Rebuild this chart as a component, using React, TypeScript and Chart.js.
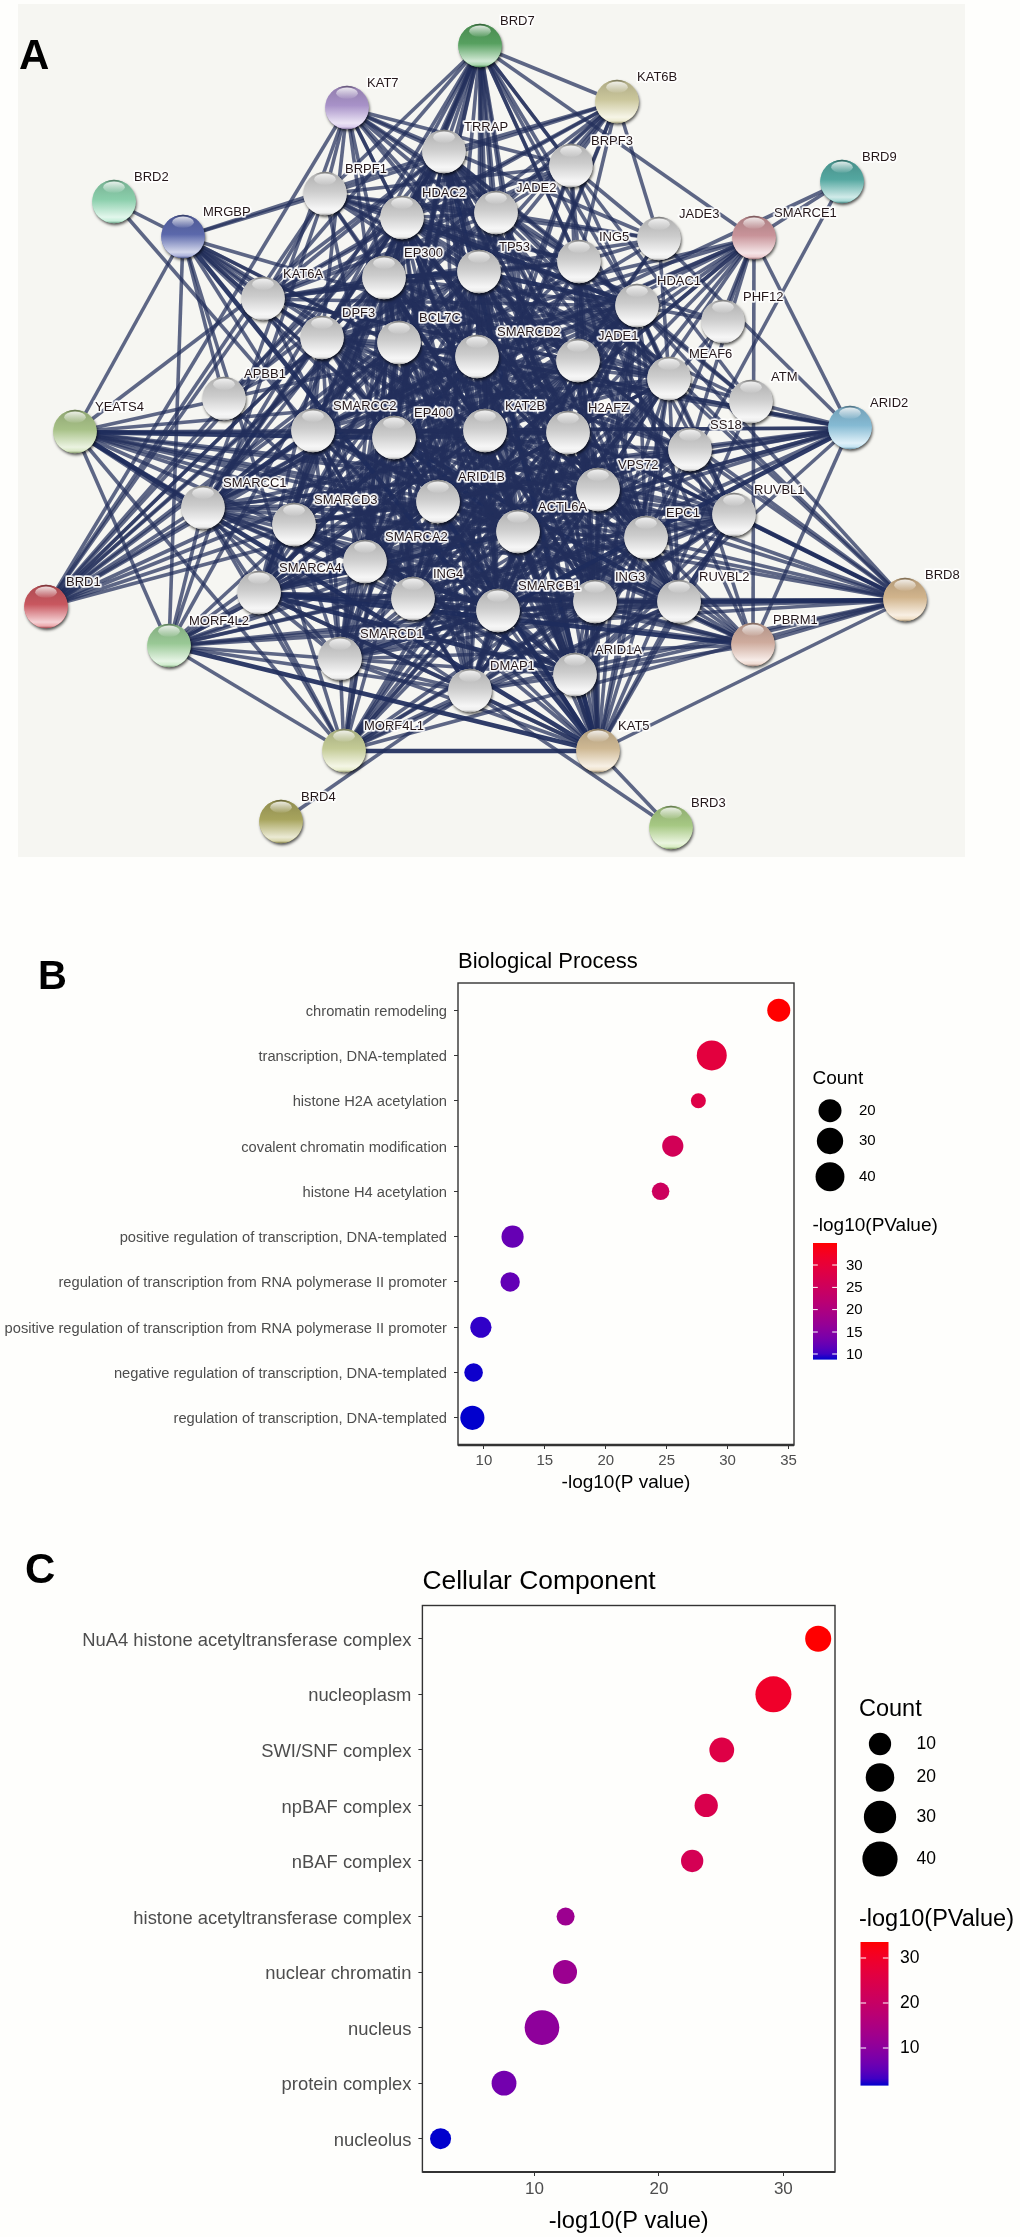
import React, { useEffect, useRef } from "react";
import { Chart, registerables } from "chart.js";

Chart.register(...registerables);

const FONT = "'Liberation Sans', Arial, sans-serif";

/* ---------- Panel A : interaction network ---------- */
const NODE_NAMES = ["BRD7","KAT7","TRRAP","BRPF1","BRD2","MRGBP","HDAC2","JADE2","EP300","TP53","KAT6A","DPF3","BCL7C","SMARCD2","APBB1","YEATS4","SMARCC2","EP400","KAT2B","KAT6B","BRPF3","BRD9","SMARCE1","JADE3","ING5","HDAC1","PHF12","JADE1","MEAF6","ATM","ARID2","H2AFZ","SS18","SMARCC1","SMARCD3","ARID1B","SMARCA2","SMARCA4","BRD1","ING4","MORF4L2","SMARCD1","DMAP1","MORF4L1","BRD4","SMARCB1","VPS72","ACTL6A","RUVBL1","EPC1","BRD8","RUVBL2","ING3","PBRM1","ARID1A","KAT5","BRD3"];
const NODE_X = [480,347,444,325,114,183,402,496,384,479,263,322,399,477,224,75,313,394,485,617,571,842,754,659,579,637,723,578,669,751,850,568,690,203,294,438,365,259,46,413,169,340,470,344,281,498,598,518,734,646,905,679,595,753,575,598,671];
const NODE_Y = [46,108,152,194,202,237,218,213,278,272,299,338,343,357,399,432,431,438,431,102,166,182,238,239,262,306,322,361,379,402,428,433,450,508,525,502,562,593,607,599,646,659,691,751,822,611,490,532,515,538,600,602,602,645,675,751,828];
const NODE_COLORS: Record<string, string> = { BRD7:"#5fb068", KAT7:"#b9a0dc", BRD2:"#98e2bc", MRGBP:"#6472bc", YEATS4:"#b8d494", BRD1:"#dc6068", MORF4L2:"#a8dca4", MORF4L1:"#d6dea4", BRD4:"#b8b466", KAT5:"#e2caa2", BRD3:"#b6dc90", PBRM1:"#e2bcac", BRD8:"#e6c69a", ARID2:"#92cce8", BRD9:"#5cb8b0", SMARCE1:"#dca2a8", KAT6B:"#dedaaa" };

const EDGE_LISTS = [
  "BRD2 MRGBP SMARCC2",
  "BRD4 DMAP1",
  "BRD3 KAT5 DMAP1",
  "BRD9 SMARCE1 SMARCC2 ARID1A",
  "SMARCE1 BRD7 SMARCA2 SMARCA4 SMARCB1 SMARCC1 SMARCC2 SMARCD1 SMARCD2 SMARCD3 ARID1A ARID1B ARID2 PBRM1 ACTL6A DPF3 BCL7C SS18",
  "ARID2 SMARCA2 SMARCA4 SMARCB1 SMARCC1 SMARCC2 SMARCD1 SMARCD2 SMARCD3 ARID1A ARID1B ACTL6A DPF3 BCL7C SS18 PBRM1 JADE3 ATM",
  "PBRM1 SMARCA2 SMARCA4 SMARCB1 SMARCC1 SMARCC2 SMARCD1 SMARCD2 SMARCD3 ARID1A ARID1B ACTL6A DPF3 BCL7C SS18 BRD8 RUVBL2 BRD7",
  "ATM TP53 HDAC1 KAT5 TRRAP MEAF6 BRD7",
  "PHF12 HDAC1 HDAC2 MORF4L1 SMARCE1",
  "KAT6B KAT6A BRPF1 BRPF3 TRRAP HDAC2 EP300 TP53 KAT2B ING5 ING4 JADE3 BCL7C JADE2 BRD7 BRD1",
  "BRD7 TRRAP BRPF1 HDAC2 JADE2 TP53 EP300 KAT2B HDAC1 SMARCA2 SMARCA4 SMARCB1 SMARCC1 SMARCC2 SMARCD1 ARID1A ARID1B ACTL6A BRPF3 ING5 BCL7C DPF3 KAT6A RUVBL1 KAT5",
  "KAT7 BRPF1 BRPF3 JADE1 JADE2 JADE3 ING4 ING5 TP53 SMARCC1 MEAF6 TRRAP HDAC2 EP300 ING3 DPF3",
  "BRD1 KAT7 KAT6A BRPF1 HDAC2 JADE2 TP53 EP300 ING5 JADE1 BCL7C SMARCD2 JADE3 SMARCD3 DPF3 TRRAP KAT2B ARID1B",
  "MRGBP KAT5 RUVBL1 RUVBL2 EP400 TRRAP DMAP1 ACTL6A VPS72 MEAF6 EPC1 ING3 YEATS4 MORF4L1 MORF4L2 H2AFZ BRPF1 KAT6A APBB1",
  "YEATS4 KAT5 TRRAP EP400 RUVBL1 RUVBL2 ACTL6A DMAP1 VPS72 MEAF6 EPC1 ING3 MORF4L1 MORF4L2 H2AFZ BRD8 ARID2 SMARCC1 SMARCA2 APBB1",
  "MORF4L2 KAT5 RUVBL1 RUVBL2 EP400 TRRAP DMAP1 ING3 EPC1 MEAF6 VPS72 ACTL6A H2AFZ MORF4L1 BRD8 SMARCC1 SMARCA4 SMARCD1 HDAC1 BRPF1",
  "MORF4L1 KAT5 RUVBL1 RUVBL2 EP400 TRRAP DMAP1 ING3 EPC1 MEAF6 VPS72 ACTL6A H2AFZ BRD8 JADE1 SMARCD1 SMARCC1 SMARCA4 HDAC1 HDAC2 TP53",
  "KAT5 TRRAP EP400 RUVBL1 RUVBL2 ACTL6A DMAP1 VPS72 MEAF6 EPC1 ING3 BRD8 H2AFZ TP53 HDAC1 HDAC2 EP300 KAT2B APBB1 ARID1A SMARCA4 SMARCB1 SMARCD1 JADE1 ING4 ING5 SS18 ARID1B",
  "BRD8 RUVBL1 RUVBL2 ING3 EPC1 MEAF6 ARID1A SMARCB1 DMAP1 ACTL6A VPS72 ING4 TRRAP EP400 JADE1 H2AFZ SS18 HDAC1",
  "TRRAP EP400 RUVBL1 RUVBL2 ACTL6A DMAP1 VPS72 MEAF6 EPC1 ING3 H2AFZ TP53 EP300 KAT2B HDAC1 HDAC2 JADE1 JADE2 SMARCA2 SMARCA4 SMARCC1 SMARCB1 KAT6A DPF3",
  "EP400 RUVBL1 RUVBL2 ACTL6A DMAP1 VPS72 MEAF6 EPC1 ING3 H2AFZ TP53 HDAC1 SMARCA4 SMARCB1 SMARCD2 ARID1B EP300 KAT2B HDAC2 JADE1 ING4",
  "RUVBL1 RUVBL2 ACTL6A DMAP1 VPS72 MEAF6 EPC1 ING3 H2AFZ TP53 HDAC1 SMARCA4 SMARCB1 ARID1A ARID1B SMARCC1 SMARCD1 EP300 KAT2B JADE1",
  "RUVBL2 ACTL6A DMAP1 VPS72 MEAF6 EPC1 ING3 H2AFZ TP53 HDAC1 HDAC2 SMARCA4 SMARCB1 ARID1A ARID1B SMARCC2 SMARCD1 EP300 ING4 KAT2B JADE1",
  "ACTL6A DMAP1 VPS72 MEAF6 EPC1 ING3 H2AFZ SMARCA2 SMARCA4 SMARCB1 SMARCC1 SMARCC2 SMARCD1 SMARCD2 SMARCD3 ARID1A ARID1B DPF3 BCL7C SS18 TP53 HDAC1 HDAC2 EP300 KAT2B JADE1",
  "DMAP1 VPS72 MEAF6 EPC1 ING3 H2AFZ HDAC1 HDAC2 TP53 ING4 SMARCA4 SMARCC2 SMARCD1 ARID1A EP300 KAT2B JADE1 SMARCB1",
  "VPS72 MEAF6 EPC1 ING3 H2AFZ HDAC1 HDAC2 TP53 JADE1 ING5 SMARCB1 KAT2B EP300 ING4",
  "MEAF6 EPC1 ING3 H2AFZ JADE1 JADE2 JADE3 ING4 ING5 BRPF1 BRPF3 KAT6A HDAC1 HDAC2 SMARCD2 ARID1B EP300 KAT2B",
  "EPC1 ING3 H2AFZ JADE1 JADE2 ING4 ING5 HDAC1 HDAC2 SMARCB1 TP53 ARID1A EP300",
  "ING3 H2AFZ TP53 HDAC1 HDAC2 ING4 ING5 JADE1 JADE2 EP300 KAT2B SMARCB1 SMARCA2 ARID1A SMARCD1",
  "H2AFZ HDAC1 HDAC2 TP53 EP300 KAT2B SMARCA4 SMARCA2 SMARCB1 SMARCC1 SMARCC2 SMARCD2 ARID1B JADE1 ING4",
  "SMARCA2 SMARCA4 SMARCB1 SMARCC1 SMARCC2 SMARCD1 SMARCD2 SMARCD3 ARID1A ARID1B DPF3 BCL7C SS18 TP53 EP300 HDAC1 HDAC2 KAT2B ING4",
  "SMARCA4 SMARCB1 SMARCC1 SMARCC2 SMARCD1 SMARCD2 SMARCD3 ARID1A ARID1B DPF3 BCL7C SS18 TP53 EP300 HDAC1 HDAC2 KAT2B ING4",
  "SMARCB1 SMARCC1 SMARCC2 SMARCD1 SMARCD2 SMARCD3 ARID1A ARID1B DPF3 BCL7C SS18 TP53 EP300 HDAC1 HDAC2 KAT2B ING4",
  "SMARCC1 SMARCC2 SMARCD1 SMARCD2 SMARCD3 ARID1A ARID1B DPF3 BCL7C SS18 TP53 EP300 HDAC1 HDAC2 ING4",
  "SMARCC2 SMARCD1 SMARCD2 SMARCD3 ARID1A ARID1B DPF3 BCL7C SS18 TP53 EP300 HDAC1 HDAC2 KAT2B JADE1 ING4",
  "SMARCD1 SMARCD2 SMARCD3 ARID1A ARID1B DPF3 BCL7C SS18 TP53 EP300 HDAC1 HDAC2 ING4",
  "SMARCD2 SMARCD3 ARID1A ARID1B DPF3 BCL7C SS18 TP53 ING5 EP300 HDAC1",
  "SMARCD3 ARID1A ARID1B DPF3 BCL7C SS18 EP300 ING4 TP53 HDAC1",
  "ARID1A ARID1B DPF3 BCL7C SS18 TP53 EP300 HDAC1 HDAC2 KAT2B ING4",
  "ARID1B DPF3 BCL7C SS18 TP53 EP300 HDAC1 HDAC2 KAT2B",
  "DPF3 BCL7C SS18 HDAC1 HDAC2 EP300 KAT2B KAT6A TP53",
  "BCL7C SS18 TP53 HDAC1 EP300 KAT2B",
  "TP53 EP300 KAT2B HDAC1 HDAC2 ING4 ING5 KAT6A JADE1 JADE2 BRPF1 APBB1 SS18",
  "EP300 KAT2B HDAC1 HDAC2 ING4 ING5 KAT6A JADE1 BRPF1 APBB1",
  "KAT2B HDAC1 HDAC2 ING4 ING5 KAT6A JADE1 JADE2 BRPF1 BRPF3",
  "HDAC1 HDAC2 ING4 ING5 JADE1 KAT6A APBB1 BRPF1",
  "HDAC2 ING4 ING5 JADE1 JADE2 KAT6A APBB1 BRPF1 BRPF3",
  "KAT6A BRPF1 BRPF3 ING4 ING5 JADE1 JADE2 JADE3",
  "BRPF1 BRPF3 ING4 ING5 JADE1 JADE2 JADE3",
  "BRPF3 ING4 ING5 JADE1 JADE2 JADE3",
  "ING4 ING5 JADE1 JADE2 JADE3",
  "ING5 JADE1 JADE2 JADE3",
  "JADE1 JADE2 JADE3",
  "JADE2 JADE3",
];
const STRONG_EDGES = ["RUVBL1 BRD8","RUVBL2 BRD8","RUVBL1 RUVBL2","MORF4L2 KAT5","YEATS4 KAT5","YEATS4 EP400","MORF4L1 KAT5","SMARCA4 SMARCB1","SMARCA2 SMARCB1","SMARCC1 SMARCC2","ARID1A SMARCA4","ARID1B SMARCA2","ACTL6A SMARCA4","TP53 EP300","EP300 KAT2B","HDAC1 HDAC2","KAT5 TRRAP","KAT5 EP400","ARID2 SMARCB1","PBRM1 SMARCA4","MRGBP KAT5","SMARCD1 SMARCB1","SMARCD2 SMARCA4","TP53 HDAC1","SMARCB1 ARID1A","ACTL6A EP400","RUVBL2 EP400"];

/* ---------- Panel B : Biological Process ---------- */
const BP_TERMS = ["chromatin remodeling","transcription, DNA-templated","histone H2A acetylation","covalent chromatin modification","histone H4 acetylation","positive regulation of transcription, DNA-templated","regulation of transcription from RNA polymerase II promoter","positive regulation of transcription from RNA polymerase II promoter","negative regulation of transcription, DNA-templated","regulation of transcription, DNA-templated"];
const BP_LOGP = [34.2,28.7,27.6,25.5,24.5,12.35,12.15,9.75,9.15,9.05];
const BP_COUNT = [20,45,10,16,11,18,13,16,12,23];
const BP_X_TICKS = [10,15,20,25,30,35];
const BP_COUNT_LEGEND = [20,30,40];
const BP_COLOR_TICKS = [30,25,20,15,10];

/* ---------- Panel C : Cellular Component ---------- */
const CC_TERMS = ["NuA4 histone acetyltransferase complex","nucleoplasm","SWI/SNF complex","npBAF complex","nBAF complex","histone acetyltransferase complex","nuclear chromatin","nucleus","protein complex","nucleolus"];
const CC_LOGP = [32.8,29.2,25.05,23.8,22.67,12.5,12.45,10.6,7.55,2.45];
const CC_COUNT = [15,43,13,11,10,8,12,38,13,9];
const CC_X_TICKS = [10,20,30];
const CC_COUNT_LEGEND = [10,20,30,40];
const CC_COLOR_TICKS = [30,20,10];

/* ---------- helpers ---------- */
function labToRgb(L: number, a: number, b: number) {
  const fy = (L + 16) / 116, fx = fy + a / 500, fz = fy - b / 200;
  const g = (t: number) => (t > 6 / 29 ? t * t * t : 3 * (6 / 29) * (6 / 29) * (t - 4 / 29));
  const X = 0.95047 * g(fx), Y = g(fy), Z = 1.08883 * g(fz);
  const lin = [3.2406 * X - 1.5372 * Y - 0.4986 * Z, -0.9689 * X + 1.8758 * Y + 0.0415 * Z, 0.0557 * X - 0.204 * Y + 1.057 * Z];
  const out = lin.map((c) => {
    const v = c <= 0.0031308 ? 12.92 * c : 1.055 * Math.pow(c, 1 / 2.4) - 0.055;
    return Math.round(Math.max(0, Math.min(1, v)) * 255);
  });
  return `rgb(${out[0]},${out[1]},${out[2]})`;
}
function blueRed(t: number) {
  const k = Math.max(0, Math.min(1, t));
  return labToRgb(24.97 + (53.24 - 24.97) * k, 67.18 + (80.09 - 67.18) * k, -91.45 + (67.2 + 91.45) * k);
}
function hexRgb(h: string) {
  return [parseInt(h.slice(1, 3), 16), parseInt(h.slice(3, 5), 16), parseInt(h.slice(5, 7), 16)];
}
function mix(h: string, target: number, k: number) {
  const c = hexRgb(h).map((v) => Math.round(v + (target - v) * k));
  return `rgb(${c[0]},${c[1]},${c[2]})`;
}
function makeSphere(hex: string) {
  const cv = document.createElement("canvas");
  cv.width = 58; cv.height = 58;
  const c = cv.getContext("2d") as CanvasRenderingContext2D;
  const r = 21.7, cx = 29, cy = 28.5;
  c.save();
  c.shadowColor = "rgba(0,0,0,0.65)"; c.shadowBlur = 3; c.shadowOffsetX = 1; c.shadowOffsetY = 2;
  c.fillStyle = hex;
  c.beginPath(); c.arc(cx, cy, r, 0, Math.PI * 2); c.fill();
  c.restore();
  const g = c.createLinearGradient(0, cy - r, 0, cy + r);
  g.addColorStop(0, mix(hex, 0, 0.5));
  g.addColorStop(0.07, mix(hex, 0, 0.2));
  g.addColorStop(0.45, mix(hex, 0, 0.09));
  g.addColorStop(0.86, mix(hex, 255, 0.72));
  g.addColorStop(0.95, mix(hex, 255, 0.45));
  g.addColorStop(1, mix(hex, 0, 0.32));
  c.fillStyle = g;
  c.beginPath(); c.arc(cx, cy, r, 0, Math.PI * 2); c.fill();
  const h = c.createLinearGradient(0, cy - r + 2, 0, cy - r * 0.38);
  h.addColorStop(0, "rgba(255,255,255,0.8)");
  h.addColorStop(1, "rgba(255,255,255,0.04)");
  c.fillStyle = h;
  c.beginPath(); c.ellipse(cx, cy - r * 0.66, r * 0.5, r * 0.26, 0, 0, Math.PI * 2); c.fill();
  return cv;
}

function buildEdges() {
  const seen = new Set<string>();
  const out: { a: string; b: string; strong: boolean }[] = [];
  const strong = new Set(STRONG_EDGES.map((s) => s.split(" ").sort().join("|")));
  EDGE_LISTS.forEach((row) => {
    const [a, ...rest] = row.split(" ");
    rest.forEach((b) => {
      const key = [a, b].sort().join("|");
      if (a === b || seen.has(key)) return;
      seen.add(key);
      out.push({ a, b, strong: strong.has(key) });
    });
  });
  return out;
}

function Network() {
  const ref = useRef<HTMLCanvasElement>(null);
  useEffect(() => {
    const idx = (n: string) => NODE_NAMES.indexOf(n);
    const edgeSets: any[] = buildEdges().map((e) => ({
      data: [
        { x: NODE_X[idx(e.a)], y: NODE_Y[idx(e.a)] },
        { x: NODE_X[idx(e.b)], y: NODE_Y[idx(e.b)] },
      ],
      showLine: true,
      pointRadius: 0,
      borderColor: e.strong ? "rgba(30,44,92,0.92)" : "rgba(34,47,92,0.72)",
      borderWidth: e.strong ? 4.6 : 3.6,
      order: 1,
    }));
    const labelPlugin = {
      id: "nodeLabels",
      afterDatasetsDraw(chart: any) {
        const { ctx, scales } = chart;
        ctx.save();
        ctx.font = `13px ${FONT}`;
        ctx.textBaseline = "middle";
        ctx.lineJoin = "round";
        NODE_NAMES.forEach((n, i) => {
          const x = scales.x.getPixelForValue(NODE_X[i]) + 20;
          const y = scales.y.getPixelForValue(NODE_Y[i]) - 24.5;
          ctx.lineWidth = 4;
          ctx.strokeStyle = "rgba(255,255,255,0.55)";
          ctx.strokeText(n, x, y);
          ctx.lineWidth = 2.4;
          ctx.strokeStyle = "rgba(255,255,255,0.9)";
          ctx.strokeText(n, x, y);
          ctx.fillStyle = "#24171a";
          ctx.fillText(n, x, y);
        });
        ctx.restore();
      },
    };
    const chart = new Chart(ref.current as HTMLCanvasElement, {
      type: "scatter",
      data: {
        datasets: [
          {
            data: NODE_NAMES.map((_, i) => ({ x: NODE_X[i], y: NODE_Y[i] })),
            pointStyle: NODE_NAMES.map((n) => makeSphere(NODE_COLORS[n] || "#e0e0e0")),
            pointRadius: 22,
            order: 0,
          } as any,
          ...edgeSets,
        ],
      },
      options: {
        animation: false,
        responsive: false,
        events: [],
        layout: { padding: 0, autoPadding: false },
        plugins: { legend: { display: false }, tooltip: { enabled: false } },
        scales: {
          x: { type: "linear", display: false, min: 18, max: 965 },
          y: { type: "linear", display: false, min: 4, max: 857, reverse: true },
        },
      },
      plugins: [labelPlugin],
    } as any);
    return () => chart.destroy();
  }, []);
  return <canvas ref={ref} width={947} height={853} style={{ position: "absolute", left: 18, top: 4, background: "#f6f6f2" }} />;
}

type DotProps = {
  terms: string[]; values: number[]; counts: number[]; xTicks: number[];
  countLegend: number[]; colorTicks: number[]; title: string;
  top: number; height: number; plotLeft: number; plotRight: number; plotTop: number; plotBottom: number;
  xMin: number; xMax: number; cMin: number; cMax: number; countMin: number; countMax: number; rMin: number; rMax: number;
  titleSize: number; titleY: number; tickSize: number; tickPad: number; tickShift: number; xTickSize: number; axisSize: number; axisPad: number;
  legendX: number; countY: number; countPos: number[]; circleX: number; legendLabelX: number; legendSize: number; headSize: number;
  barLabelY: number; barX: number; barW: number; barTop: number; barBottom: number; barTickPos: number[]; barLabelX: number;
  bottomWidth: number;
};

function DotPlot(p: DotProps) {
  const ref = useRef<HTMLCanvasElement>(null);
  useEffect(() => {
    const radius = (c: number) => p.rMin + (p.rMax - p.rMin) * Math.sqrt(Math.max(0, (c - p.countMin) / (p.countMax - p.countMin)));
    const colour = (v: number) => blueRed((v - p.cMin) / (p.cMax - p.cMin));
    const frame = {
      id: "frameAndLegends",
      afterDatasetsDraw(chart: any) {
        const { ctx, chartArea: a } = chart;
        ctx.save();
        ctx.strokeStyle = "#333333";
        ctx.lineWidth = 1.4;
        ctx.strokeRect(a.left, a.top, a.right - a.left, a.bottom - a.top);
        ctx.lineWidth = p.bottomWidth;
        ctx.beginPath(); ctx.moveTo(a.left, a.bottom); ctx.lineTo(a.right, a.bottom); ctx.stroke();
        ctx.textBaseline = "middle";
        ctx.fillStyle = "#000";
        ctx.font = `${p.titleSize}px ${FONT}`;
        ctx.fillText(p.title, p.plotLeft, p.titleY - p.top);
        ctx.font = `${p.headSize}px ${FONT}`;
        ctx.fillText("Count", p.legendX, p.countY - p.top);
        ctx.fillText("-log10(PValue)", p.legendX, p.barLabelY - p.top);
        p.countLegend.forEach((c, i) => {
          const y = p.countPos[i] - p.top;
          ctx.fillStyle = "#000";
          ctx.beginPath(); ctx.arc(p.circleX, y, radius(c), 0, Math.PI * 2); ctx.fill();
          ctx.font = `${p.legendSize}px ${FONT}`;
          ctx.fillText(String(c), p.legendLabelX, y);
        });
        const bt = p.barTop - p.top, bb = p.barBottom - p.top;
        const g = ctx.createLinearGradient(0, bb, 0, bt);
        for (let s = 0; s <= 20; s++) g.addColorStop(s / 20, blueRed(s / 20));
        ctx.fillStyle = g;
        ctx.fillRect(p.barX, bt, p.barW, bb - bt);
        p.colorTicks.forEach((v, i) => {
          const y = p.barTickPos[i] - p.top;
          ctx.strokeStyle = "#fff";
          ctx.lineWidth = 1;
          ctx.beginPath();
          ctx.moveTo(p.barX, y); ctx.lineTo(p.barX + p.barW / 5, y);
          ctx.moveTo(p.barX + (p.barW * 4) / 5, y); ctx.lineTo(p.barX + p.barW, y);
          ctx.stroke();
          ctx.fillStyle = "#000";
          ctx.font = `${p.legendSize}px ${FONT}`;
          ctx.fillText(String(v), p.barLabelX, y + 0.5);
        });
        ctx.restore();
      },
    };
    const chart = new Chart(ref.current as HTMLCanvasElement, {
      type: "bubble",
      data: {
        datasets: [{
          data: p.terms.map((_, i) => ({ x: p.values[i], y: i + 1, r: radius(p.counts[i]) })),
          backgroundColor: p.values.map(colour),
          borderWidth: 0,
          hoverBorderWidth: 0,
          clip: false,
        } as any],
      },
      options: {
        animation: false,
        responsive: false,
        events: [],
        layout: { autoPadding: false, padding: { top: p.plotTop - p.top, right: 1020 - p.plotRight, bottom: 0, left: 0 } },
        plugins: { legend: { display: false }, tooltip: { enabled: false } },
        scales: {
          x: {
            type: "linear", min: p.xMin, max: p.xMax,
            afterBuildTicks: (s: any) => { s.ticks = p.xTicks.map((value) => ({ value })); },
            afterFit: (s: any) => { s.height = p.top + p.height - p.plotBottom; },
            grid: { drawOnChartArea: false, drawTicks: true, tickLength: 4, color: "#333333" },
            border: { display: false },
            ticks: { color: "#4d4d4d", font: { family: FONT, size: p.xTickSize }, padding: 3, maxRotation: 0, autoSkip: false },
            title: { display: true, text: "-log10(P value)", color: "#000", font: { family: FONT, size: p.axisSize }, padding: { top: 0, bottom: p.axisPad } },
          },
          y: {
            type: "linear", min: 0.4, max: 10.6, reverse: true,
            afterBuildTicks: (s: any) => { s.ticks = p.terms.map((_, i) => ({ value: i + 1 })); },
            afterFit: (s: any) => { s.width = p.plotLeft; },
            grid: { drawOnChartArea: false, drawTicks: true, tickLength: 4, color: "#333333" },
            border: { display: false },
            ticks: { color: "#4d4d4d", font: { family: FONT, size: p.tickSize }, padding: p.tickPad, labelOffset: p.tickShift, autoSkip: false, callback: (v: any) => p.terms[Number(v) - 1] },
          },
        },
      },
      plugins: [frame],
    } as any);
    return () => chart.destroy();
  }, []);
  return <canvas ref={ref} width={1020} height={p.height} style={{ position: "absolute", left: 0, top: p.top }} />;
}

const letter = (t: string, left: number, top: number, size: number) => (
  <div style={{ position: "absolute", left, top, fontFamily: FONT, fontWeight: 700, fontSize: size, lineHeight: 1, color: "#000" }}>{t}</div>
);

export default function App() {
  return (
    <div style={{ position: "absolute", left: 0, top: 0, width: 1020, height: 2237, background: "#fefefc", overflow: "hidden" }}>
      <Network />
      {letter("A", 19, 34, 42)}
      <DotPlot
        terms={BP_TERMS} values={BP_LOGP} counts={BP_COUNT} xTicks={BP_X_TICKS} countLegend={BP_COUNT_LEGEND} colorTicks={BP_COLOR_TICKS}
        title="Biological Process" top={930} height={590}
        plotLeft={458} plotRight={794} plotTop={983} plotBottom={1445}
        xMin={7.87} xMax={35.45} cMin={9.05} cMax={34.2} countMin={10} countMax={45} rMin={7.5} rMax={15}
        titleSize={22} titleY={962} tickSize={14.7} tickPad={7} tickShift={1.5} xTickSize={15} axisSize={19} axisPad={26}
        legendX={812.5} countY={1079} countPos={[1110.7,1141,1176.7]} circleX={830} legendLabelX={859} legendSize={15} headSize={19}
        barLabelY={1225.6} barX={813} barW={24} barTop={1243} barBottom={1359.6} barTickPos={[1265,1287.4,1309.6,1332,1354]} barLabelX={846}
        bottomWidth={2.4}
      />
      {letter("B", 38, 955, 40)}
      <DotPlot
        terms={CC_TERMS} values={CC_LOGP} counts={CC_COUNT} xTicks={CC_X_TICKS} countLegend={CC_COUNT_LEGEND} colorTicks={CC_COLOR_TICKS}
        title="Cellular Component" top={1540} height={697}
        plotLeft={422.4} plotRight={835} plotTop={1605.5} plotBottom={2172}
        xMin={0.99} xMax={34.15} cMin={2.45} cMax={32.8} countMin={8} countMax={43} rMin={9} rMax={18}
        titleSize={26.4} titleY={1582} tickSize={18.4} tickPad={7} tickShift={2} xTickSize={17} axisSize={23.6} axisPad={1.3}
        legendX={859} countY={1710} countPos={[1744,1777.4,1817,1859]} circleX={880} legendLabelX={916.5} legendSize={17.5} headSize={23.5}
        barLabelY={1920} barX={860.5} barW={28} barTop={1942} barBottom={2085.6} barTickPos={[1958,2003,2048]} barLabelX={900}
        bottomWidth={1.8}
      />
      {letter("C", 25, 1548, 42)}
    </div>
  );
}
